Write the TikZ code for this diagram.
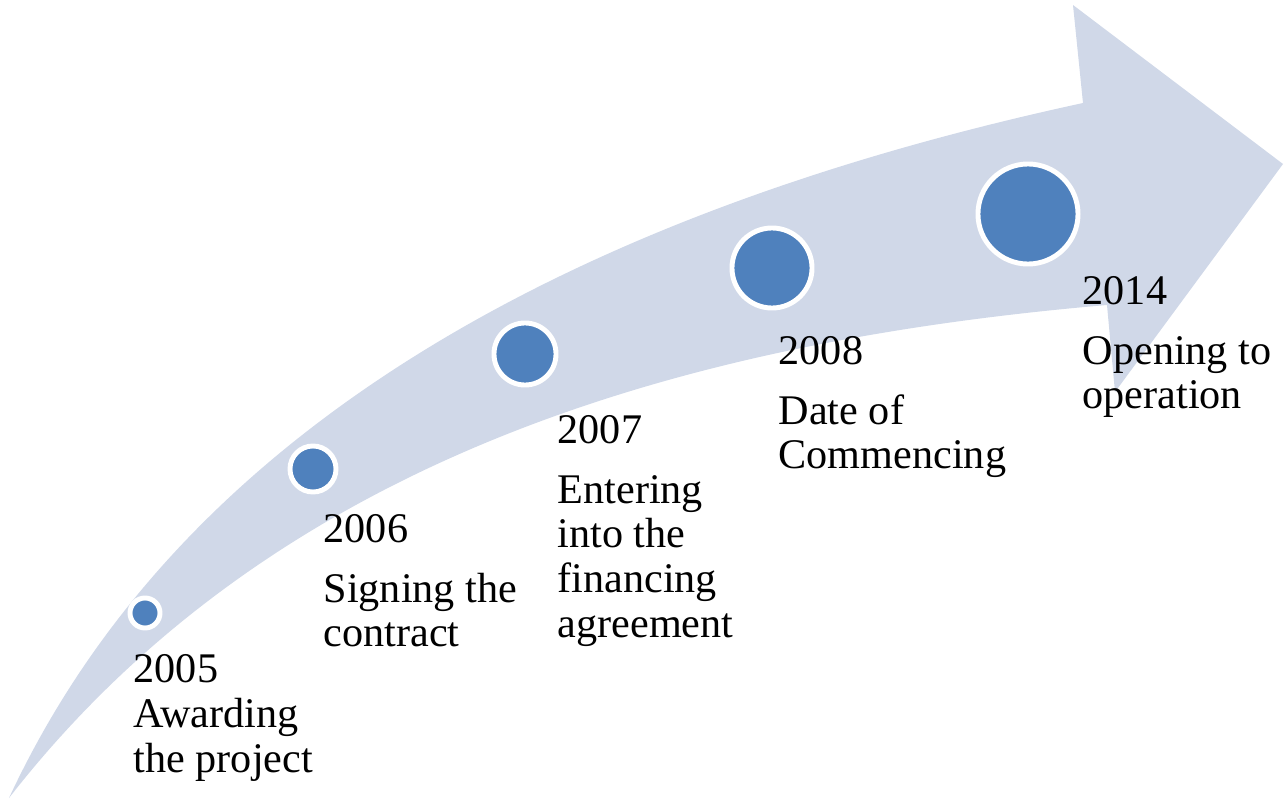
\documentclass[tikz,border=0pt]{standalone}
\usepackage{fontspec}
\setmainfont{Liberation Serif}
\definecolor{bandfill}{HTML}{D0D8E8}
\definecolor{dotblue}{HTML}{4F81BD}
\tikzstyle{milestone}=[circle,draw=white,fill=dotblue,line width=1.4pt,inner sep=0pt]
\tikzstyle{yeartext}=[anchor=north west,inner sep=0pt,align=left,font=\fontsize{12}{12.7}\selectfont]

\begin{document}
\begin{tikzpicture}[x=0.01cm,y=-0.01cm]
    \useasboundingbox (0,0) rectangle (1287,800);
    % curved arrow
    \fill[bandfill] (9,798) .. controls (120,560) and (380,255) .. (1083,103)
        -- (1073,5) -- (1283,164) -- (1115,392) -- (1107,305)
        .. controls (700,340) and (280,450) .. (9,798) -- cycle;

    % dots along the arrow
    \node[milestone, minimum size=0.30cm] (d2005) at (145,613) {};
    \node[milestone, minimum size=0.46cm] (d2006) at (313,469) {};
    \node[milestone, minimum size=0.62cm] (d2007) at (525,354) {};
    \node[milestone, minimum size=0.80cm] (d2008) at (772,268) {};
    \node[milestone, minimum size=1.00cm] (d2014) at (1028,214) {};

    % texts
    \node[yeartext] (t2005) at (133,654) {2005\\Awarding\\the project};
    \node[yeartext] (t2006) at (323,514) {2006\\[4.2pt]Signing the\\contract};
    \node[yeartext] (t2007) at (557,415) {2007\\[4.2pt]Entering\\into the\\financing\\agreement};
    \node[yeartext] (t2008) at (778,336) {2008\\[4.2pt]Date of\\Commencing};
    \node[yeartext] (t2014) at (1082,276) {2014\\[4.2pt]Opening to\\operation};
\end{tikzpicture}
\end{document}
